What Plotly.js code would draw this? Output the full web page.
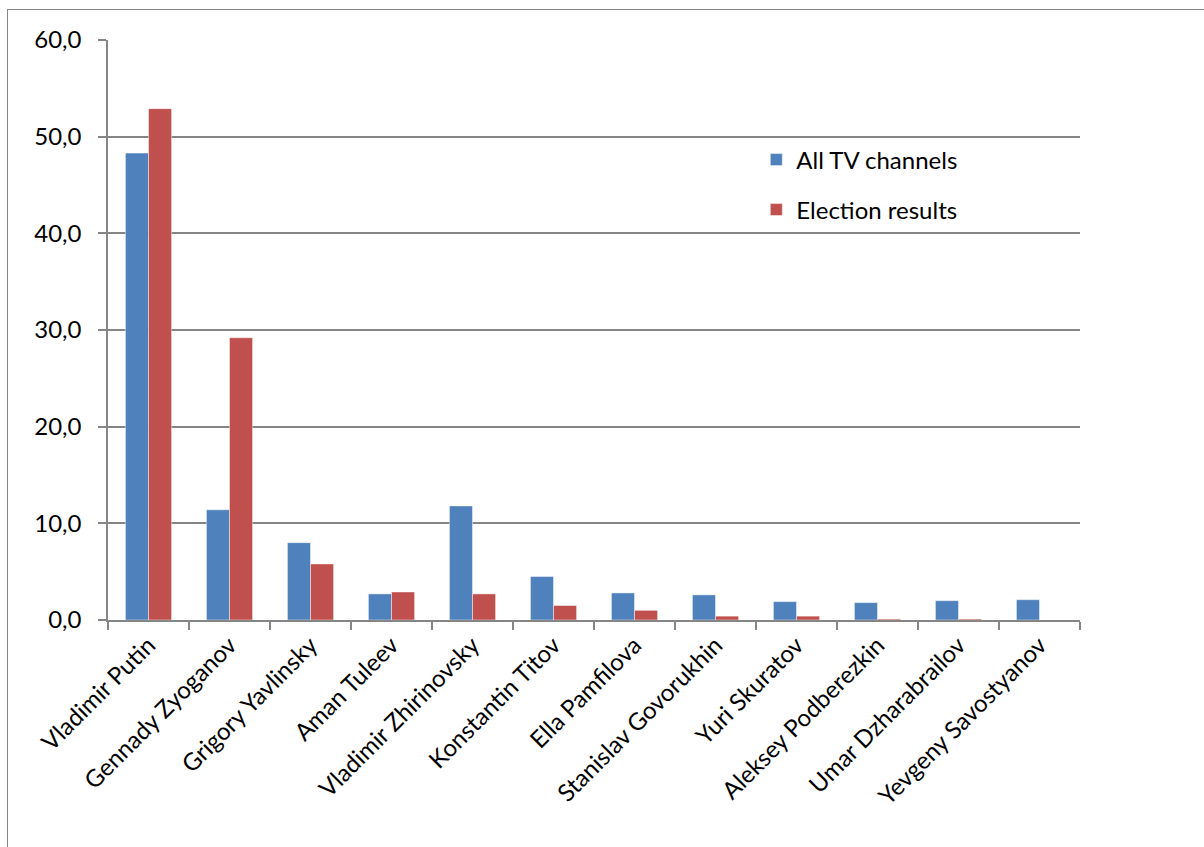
<!DOCTYPE html>
<html>
<head>
<meta charset="utf-8">
<script src="https://cdn.plot.ly/plotly-3.0.1.min.js"></script>
<style>
  html, body { margin: 0; padding: 0; background: #fff; overflow: hidden; }
  #chart { position: absolute; left: 0; top: 0; width: 1204px; height: 847px; }
  #frame { position: absolute; left: 7px; top: 9px; width: 1220px; height: 870px;
           border: 1.5px solid #868686; pointer-events: none; }
</style>
</head>
<body>
<div id="chart"></div>
<div id="frame"></div>
<script>
const candidates = [
  "Vladimir Putin", "Gennady Zyoganov", "Grigory Yavlinsky", "Aman Tuleev",
  "Vladimir Zhirinovsky", "Konstantin Titov", "Ella Pamfilova", "Stanislav Govorukhin",
  "Yuri Skuratov", "Aleksey Podberezkin", "Umar Dzharabrailov", "Yevgeny Savostyanov"
];
const tvShare = [48.3, 11.4, 8.0, 2.7, 11.8, 4.5, 2.8, 2.6, 1.9, 1.8, 2.0, 2.1];
const electionResults = [52.9, 29.2, 5.8, 2.9, 2.7, 1.5, 1.0, 0.4, 0.4, 0.1, 0.1, 0.0];
const seriesNames = ["All TV channels", "Election results"];

const FONT = "Lato, 'Open Sans', sans-serif";
const FS = 24;
const grey = "#868686";

const traces = [
  { type: "bar", name: seriesNames[0], x: candidates, y: tvShare,
    marker: { color: "#4F81BD", line: { color: "rgba(255,255,255,0.45)", width: 1 } },
    legend: "legend" },
  { type: "bar", name: seriesNames[1], x: candidates, y: electionResults,
    marker: { color: "#C0504D", line: { color: "rgba(255,255,255,0.45)", width: 1 } },
    legend: "legend2" }
];

const legendStyle = (y) => ({
  x: 0.667, y: y, xanchor: "left", yanchor: "middle",
  bgcolor: "rgba(0,0,0,0)", font: { family: FONT, size: FS, color: "#000" },
  itemwidth: 30
});

const layout = {
  width: 1204, height: 847,
  margin: { l: 108, r: 124, t: 40, b: 227 },
  paper_bgcolor: "#fff", plot_bgcolor: "#fff",
  separators: ",.",
  barmode: "group", bargap: 0.43, bargroupgap: 0,
  font: { family: FONT, size: FS, color: "#000" },
  showlegend: true,
  legend: legendStyle((620 - 160) / 580),
  legend2: legendStyle((620 - 210) / 580),
  xaxis: {
    type: "category", tickangle: -45, tickson: "boundaries",
    ticks: "outside", ticklen: 8, tickcolor: grey, tickwidth: 1.7,
    showline: true, linecolor: grey, linewidth: 1.7, showgrid: false,
    tickfont: { family: FONT, size: FS, color: "#000" }
  },
  yaxis: {
    range: [0, 60], dtick: 10, tickformat: ".1f",
    ticks: "outside", ticklen: 8, tickcolor: grey, tickwidth: 1.7,
    showline: true, linecolor: grey, linewidth: 1.7,
    showgrid: true, gridcolor: grey, gridwidth: 1.7,
    zeroline: false, ticklabelstandoff: 12,
    tickfont: { family: FONT, size: FS, color: "#000" }
  }
};

Plotly.newPlot("chart", traces, layout, { displayModeBar: false, staticPlot: true });
</script>
</body>
</html>
